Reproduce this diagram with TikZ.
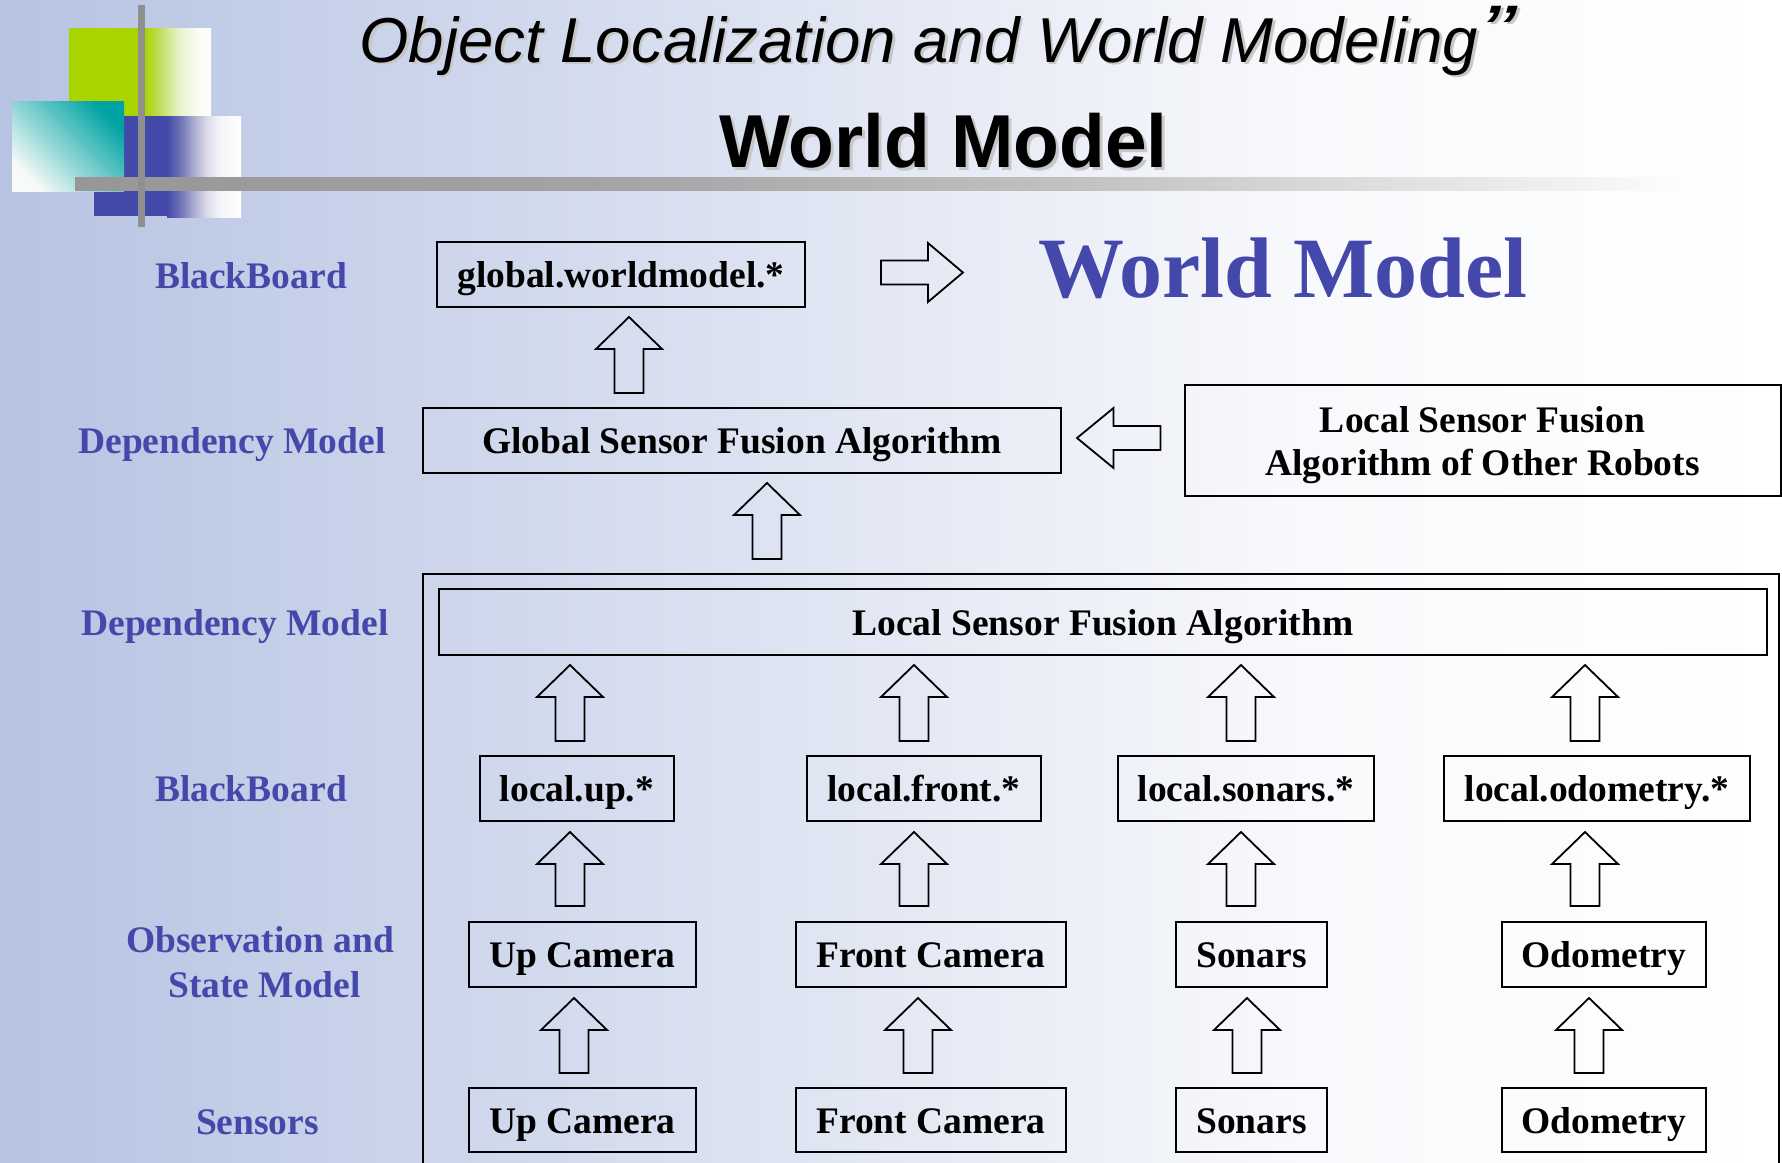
\documentclass[tikz,border=0pt]{standalone}
\usepackage{fontspec}
\setmainfont{Liberation Serif}
\newfontfamily\sansfam{Liberation Sans}
\usetikzlibrary{calc}

\definecolor{lblblue}{RGB}{68,72,170}
\definecolor{decogreen}{RGB}{170,212,0}
\definecolor{decoblue}{RGB}{67,73,168}
\definecolor{decoteal}{RGB}{0,163,163}
\definecolor{tealpale}{RGB}{246,250,248}
\definecolor{barg}{RGB}{143,143,143}
\definecolor{bgleft}{RGB}{182,195,226}
\definecolor{bgnear}{RGB}{248,249,252}

% horizontal ramps: 25bp..75bp spans the shaded path
\pgfdeclarehorizontalshading{bgfade}{100bp}{color(0bp)=(bgleft); color(25bp)=(bgleft); color(61.5bp)=(bgnear); color(75bp)=(white); color(100bp)=(white)}
\pgfdeclarehorizontalshading{greenfade}{100bp}{color(0bp)=(decogreen); color(25bp)=(decogreen); rgb(36bp)=(0.75,0.87,0.36); rgb(51bp)=(0.91,0.95,0.80); rgb(66bp)=(0.98,0.99,0.96); color(75bp)=(white); color(100bp)=(white)}
\pgfdeclarehorizontalshading{bluefade}{100bp}{color(0bp)=(decoblue); color(25bp)=(decoblue); rgb(34bp)=(0.43,0.45,0.71); rgb(43bp)=(0.67,0.68,0.82); rgb(52bp)=(0.86,0.86,0.92); rgb(61bp)=(0.96,0.96,0.98); color(75bp)=(white); color(100bp)=(white)}
\pgfdeclarehorizontalshading{barfade}{100bp}{rgb(0bp)=(0.59,0.59,0.59); rgb(25bp)=(0.59,0.59,0.59); rgb(41bp)=(0.64,0.64,0.64); rgb(56bp)=(0.76,0.76,0.76); rgb(69bp)=(0.92,0.92,0.92); color(75bp)=(white); color(100bp)=(white)}

\newcommand\boxfnt{\bfseries\fontsize{37.5}{43}\selectfont}
\newcommand\wmfnt{\bfseries\fontsize{86}{90}\selectfont}
\newcommand\headfnt{\sansfam\itshape\fontsize{63.5}{70}\selectfont}
\newcommand\subfnt{\sansfam\bfseries\fontsize{75}{80}\selectfont}
\newcommand\bigquote{\scalebox{1.6}[1.15]{”}}

\tikzset{
  blk sw/.store in=\blkSW, blk hw/.store in=\blkHW, blk hl/.store in=\blkHL,
  blk sw=14.5pt, blk hw=33pt, blk hl=32pt,
  blockarrow/.style={draw, line width=1.8pt, line join=miter},
  % hollow block arrow pointing up, drawn from start (tail) to target (tip)
  blockv/.style={blockarrow, to path={
    let \p1=(\tikztostart), \p2=(\tikztotarget) in
    (\x1-\blkSW,\y1) -- (\x1-\blkSW,\y2-\blkHL) -- (\x1-\blkHW,\y2-\blkHL) -- (\x1,\y2)
    -- (\x1+\blkHW,\y2-\blkHL) -- (\x1+\blkSW,\y2-\blkHL) -- (\x1+\blkSW,\y1) -- cycle}},
  % hollow block arrow pointing left or right
  blockh/.style={blockarrow, to path={
    let \p1=(\tikztostart), \p2=(\tikztotarget), \n1={ifthenelse(\x2>\x1,1,-1)} in
    (\x1,\y1-\blkSW) -- (\x2-\n1*\blkHL,\y1-\blkSW) -- (\x2-\n1*\blkHL,\y1-\blkHW) -- (\x2,\y1)
    -- (\x2-\n1*\blkHL,\y1+\blkHW) -- (\x2-\n1*\blkHL,\y1+\blkSW) -- (\x1,\y1+\blkSW) -- cycle}},
  box/.style={draw, line width=2pt, inner sep=0pt, outer sep=0pt, font=\boxfnt},
  onebox/.style={box, text height=26pt, text depth=0pt},
  lbl/.style={anchor=base, inner sep=0pt, font=\boxfnt, text=lblblue},
  shadowtext/.style={text=black!22},
}

\begin{document}
\begin{tikzpicture}[x=1pt, y=-1pt]
\useasboundingbox (0,0) rectangle (1782,1162);
\clip (0,0) rectangle (1782,1162);

% slide background
\shade[shading=bgfade] (0,0) rectangle (1782,1162);

% corner ornament
\fill[decogreen] (69,28) rectangle (145,116);
\shade[shading=greenfade] (145,28) rectangle (211,116);
\fill[decoblue] (94,116) rectangle (167,216);
\shade[shading=bluefade] (167,116) rectangle (241,217);
\shade[top color=decoteal, bottom color=tealpale, shading angle=-45] (12,101) rectangle (124,191);
\shade[shading=barfade] (75,177) rectangle (1700,190);
\fill[barg] (138,5) rectangle (145,227);

% headings
\node[anchor=base, inner sep=0pt, font=\headfnt, shadowtext] (headshadow) at (921.5,64.5) {Object Localization and World Modeling};
\node[anchor=base, inner sep=0pt, font=\headfnt] (head) at (919,62) {Object Localization and World Modeling};
\node[anchor=north west, inner sep=0pt, font=\headfnt, shadowtext] (quoteshadow) at (1483,8.5) {\bigquote};
\node[anchor=north west, inner sep=0pt, font=\headfnt] (quote) at (1480.5,6) {\bigquote};
\node[anchor=base, inner sep=0pt, font=\subfnt, shadowtext] (subshadow) at (946.5,170) {World Model};
\node[anchor=base, inner sep=0pt, font=\subfnt] (sub) at (943.5,167) {World Model};

% layer labels
\node[lbl] (bb1) at (251,288) {BlackBoard};
\node[lbl] (dm1) at (232,453) {Dependency Model};
\node[lbl] (dm2) at (235,635) {Dependency Model};
\node[lbl] (bb2) at (251,801) {BlackBoard};
\node[lbl] (osm1) at (260,952) {Observation and};
\node[lbl] (osm2) at (264.5,997) {State Model};
\node[lbl] (sens) at (257.5,1134) {Sensors};

% global level
\node[onebox, minimum width=368, minimum height=65] (gwm) at (621,274.5) {global.worldmodel.*};
\node[anchor=base, inner sep=0pt, font=\wmfnt, text=lblblue] (wm) at (1283,297) {World Model};
\node[onebox, minimum width=638, minimum height=65] (gsfa) at (742,440.5) {Global Sensor Fusion Algorithm};
\node[box, minimum width=596, minimum height=111, align=center, text depth=0pt] (other) at (1482.5,440.5) {Local Sensor Fusion\\Algorithm of Other Robots};

% local robot frame
\node[draw, line width=2pt, inner sep=0pt, outer sep=0pt, anchor=north west, minimum width=1356, minimum height=640] (robot) at (423,574) {};
\node[onebox, minimum width=1328, minimum height=66] (lsfa) at (1103,622) {Local Sensor Fusion Algorithm};

\node[onebox, minimum width=194, minimum height=65] (lup) at (577,788.5) {local.up.*};
\node[onebox, minimum width=234, minimum height=65] (lfront) at (924,788.5) {local.front.*};
\node[onebox, minimum width=256, minimum height=65] (lson) at (1246,788.5) {local.sonars.*};
\node[onebox, minimum width=306, minimum height=65] (lodo) at (1597,788.5) {local.odometry.*};

\node[onebox, minimum width=227, minimum height=65] (oup) at (582.5,954.5) {Up Camera};
\node[onebox, minimum width=270, minimum height=65] (ofront) at (931,954.5) {Front Camera};
\node[onebox, minimum width=151, minimum height=65] (oson) at (1251.5,954.5) {Sonars};
\node[onebox, minimum width=204, minimum height=65] (oodo) at (1604,954.5) {Odometry};

\node[onebox, minimum width=227, minimum height=64] (sup) at (582.5,1120) {Up Camera};
\node[onebox, minimum width=270, minimum height=64] (sfront) at (931,1120) {Front Camera};
\node[onebox, minimum width=151, minimum height=64] (sson) at (1251.5,1120) {Sonars};
\node[onebox, minimum width=204, minimum height=64] (sodo) at (1604,1120) {Odometry};

% data flow
\draw[blockv] ($(gwm.south |- gsfa.north)+(8,-15)$) to ($(gwm.south)+(8,10)$);
\draw[blockv] ($(gsfa.south |- robot.north)+(25,-15)$) to ($(gsfa.south)+(25,10)$);
\draw[blockh, blk sw=12pt, blk hw=29.5pt, blk hl=35pt] ($(gwm.east)+(76,-2)$) to ($(wm.west)+(-75,0)$);
\draw[blockh, blk sw=12pt, blk hw=30pt, blk hl=36.5pt] ($(other.west)+(-24,-2.5)$) to ($(gsfa.east)+(16,0)$);

\foreach \l/\o/\s/\da/\db/\dc in {lup/oup/sup/-7/-12.5/-8.5, lfront/ofront/sfront/-10/-17/-13, lson/oson/sson/-5/-10.5/-4.5, lodo/oodo/sodo/-12/-19/-15} {
  \draw[blockv] ($(\l.north)+(\da,-15)$) to ($(lsfa.south)+(0,10)$);
  \draw[blockv] ($(\o.north)+(\db,-16)$) to ($(\l.south)+(0,11)$);
  \draw[blockv] ($(\s.north)+(\dc,-15)$) to ($(\o.south)+(0,11)$);
}
\end{tikzpicture}
\end{document}
